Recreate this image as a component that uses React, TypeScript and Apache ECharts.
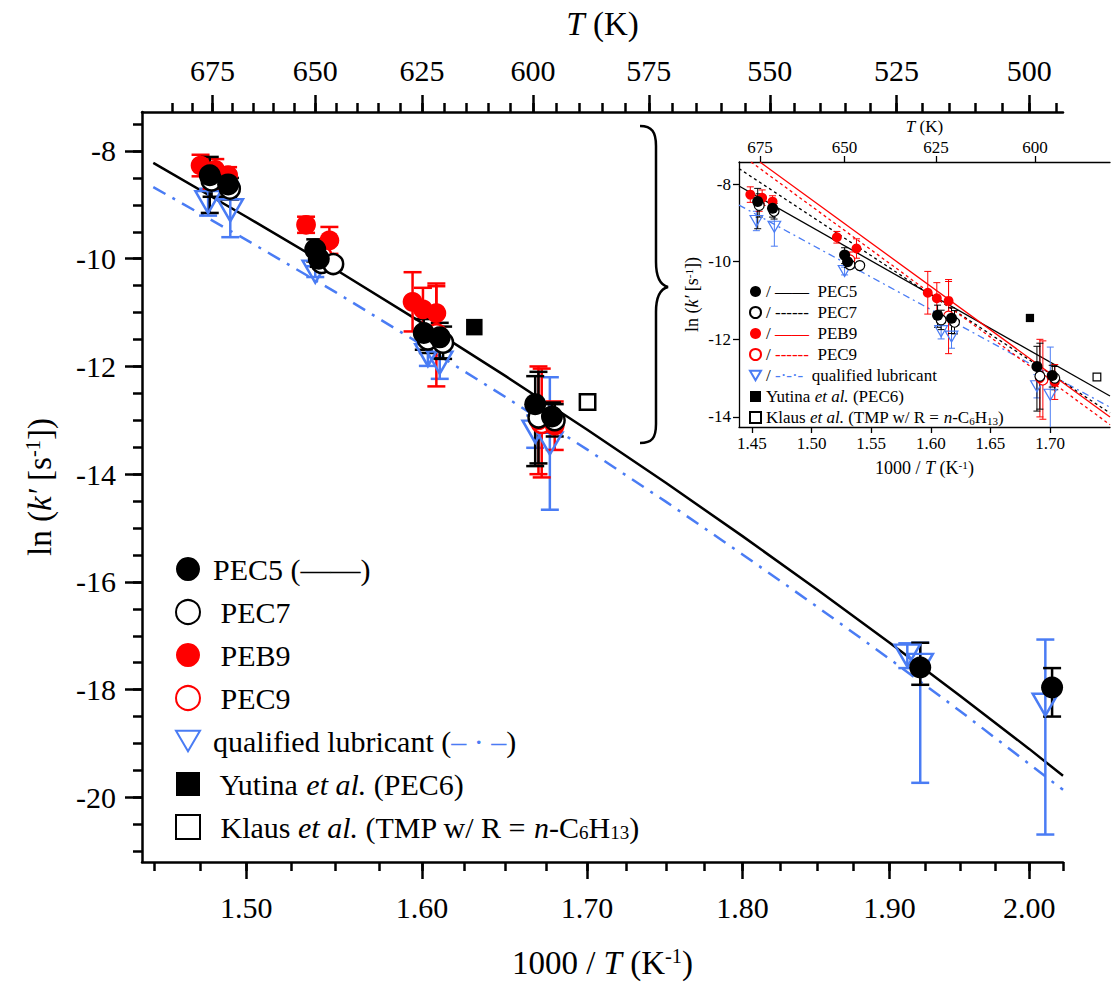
import React, { useEffect, useRef } from 'react';
import * as echarts from 'echarts';

const FONT = '"Liberation Serif", "Times New Roman", serif';
const BLUE = '#4a7cf4';
const RED = '#ff0000';

// ---- tick labels ----
const xMajor = [1.5, 1.6, 1.7, 1.8, 1.9, 2.0];
const xMinor = [1.45, 1.475, 1.5, 1.525, 1.55, 1.575, 1.6, 1.625, 1.65, 1.675, 1.7, 1.725, 1.75, 1.775, 1.8, 1.825, 1.85, 1.875, 1.9, 1.925, 1.95, 1.975, 2.0, 2.025];
const tMajor = [675, 650, 625, 600, 575, 550, 525, 500];
const tMinor = [685, 680, 675, 670, 665, 660, 655, 650, 645, 640, 635, 630, 625, 620, 615, 610, 605, 600, 595, 590, 585, 580, 575, 570, 565, 560, 555, 550, 545, 540, 535, 530, 525, 520, 515, 510, 505, 500, 495];
const yMajor = [-20, -18, -16, -14, -12, -10, -8];
const yMinor = [-21, -20.5, -20, -19.5, -19, -18.5, -18, -17.5, -17, -16.5, -16, -15.5, -15, -14.5, -14, -13.5, -13, -12.5, -12, -11.5, -11, -10.5, -10, -9.5, -9, -8.5, -8, -7.5];

const insetXMajor = [1.45, 1.5, 1.55, 1.6, 1.65, 1.7];
const insetTMajor = [675, 650, 625, 600];
const insetYMajor = [-14, -12, -10, -8];

// ---- data: x = 1000/T (K^-1), y = ln k', low/high = error bar ends ----
const pec5X = [1.48, 1.49, 1.5385, 1.5405, 1.6011, 1.6105, 1.668, 1.6783, 1.9215, 2.0169];
const pec5Y = [-8.45, -8.62, -9.83, -10.0, -11.38, -11.46, -12.7, -12.93, -17.59, -17.96];
const pec5Lo = [-9.15, -8.85, -10.05, -10.15, -11.69, -11.85, -13.85, -13.23, -17.91, -18.5];
const pec5Hi = [-8.11, -8.39, -9.64, -9.85, -11.12, -11.19, -12.18, -12.67, -17.13, -17.6];

const pec7X = [1.481, 1.491, 1.5421, 1.5487, 1.6035, 1.6125, 1.67, 1.68];
const pec7Y = [-8.55, -8.7, -10.08, -10.1, -11.5, -11.56, -12.95, -13.0];
const pec7Lo = [-8.85, -8.9, -10.18, -10.2, -11.75, -11.86, -13.8, -13.3];
const pec7Hi = [-8.25, -8.5, -9.98, -10.0, -11.25, -11.26, -12.1, -12.7];

const peb9X = [1.475, 1.483, 1.49, 1.5333, 1.5465, 1.5945, 1.6006, 1.6085, 1.67, 1.68];
const peb9Y = [-8.27, -8.35, -8.45, -9.37, -9.66, -10.8, -10.94, -11.01, -13.0, -13.1];
const peb9Lo = [-8.47, -8.55, -8.6, -9.52, -9.91, -11.35, -11.34, -11.51, -14.0, -13.55];
const peb9Hi = [-8.07, -8.15, -8.3, -9.22, -9.41, -10.25, -10.54, -10.51, -12.0, -12.65];

const pec9X = [1.481, 1.542, 1.6085, 1.672];
const pec9Y = [-8.5, -9.95, -11.4, -13.05];
const pec9Lo = [-8.7, -10.15, -12.37, -14.06];
const pec9Hi = [-8.3, -9.75, -10.46, -12.04];

const qlX = [1.4791, 1.4912, 1.5385, 1.6035, 1.6105, 1.668, 1.677, 1.9124, 1.9215, 2.0119];
const qlY = [-8.95, -9.1, -10.24, -11.79, -11.93, -13.21, -13.43, -17.37, -17.54, -18.28];
const qlLo = [-9.2, -9.6, -10.34, -11.99, -12.23, -13.51, -14.66, -17.6, -19.73, -20.69];
const qlHi = [-8.7, -8.6, -10.14, -11.59, -11.63, -12.91, -12.2, -17.14, -17.13, -17.07];

const yutinaX = [1.6311];
const yutinaY = [-11.27];
const klausX = [1.7004];
const klausY = [-12.66];
// where the inset draws these two literature points
const insetYutinaX = [1.6633];
const insetYutinaY = [-11.45];
const insetKlausX = [1.7084];
const insetKlausY = [-12.97];

// fit lines (straight in 1000/T, so curved on this axis)
const fit5X = [1.4496, 1.5, 1.55, 1.6, 1.65, 1.7, 1.75, 1.8, 1.85, 1.9, 1.95, 2.0, 2.025];
const fit5Y = [-8.22, -9.22, -10.2, -11.19, -12.18, -13.17, -14.16, -15.15, -16.14, -17.13, -18.12, -19.1, -19.6];
const fitQX = [1.4496, 1.5, 1.55, 1.6, 1.65, 1.7, 1.75, 1.8, 1.85, 1.9, 1.95, 2.0, 2.025];
const fitQY = [-8.67, -9.65, -10.62, -11.6, -12.57, -13.54, -14.51, -15.49, -16.46, -17.43, -18.4, -19.38, -19.86];

// inset fit lines
const in5X = [1.4674, 1.7172];
const in5Y = [-8.05, -13.46];
const in7X = [1.4674, 1.7172];
const in7Y = [-7.6, -13.9];
const inB9X = [1.4815, 1.7172];
const inB9Y = [-7.43, -14.0];
const inC9X = [1.4755, 1.7172];
const inC9Y = [-7.43, -14.2];
const inQX = [1.4674, 1.7172];
const inQY = [-8.54, -13.75];

const LN = Math.log;

function pts(xs: number[], ys: number[], log: boolean) {
  return xs.map((x, i) => [log ? LN(x) : x, ys[i]]);
}

function errSeries(name: string, xs: number[], lo: number[], hi: number[], color: string, log: boolean, cap: number, lw: number, z: number) {
  return {
    type: 'custom',
    name,
    clip: true,
    z,
    silent: true,
    data: xs.map((x, i) => [log ? LN(x) : x, lo[i], hi[i]]),
    encode: { x: 0, y: [1, 2] },
    renderItem: (params: any, api: any) => {
      const x = api.value(0);
      const p1 = api.coord([x, api.value(1)]);
      const p2 = api.coord([x, api.value(2)]);
      const h = cap / 2;
      const st = { stroke: color, lineWidth: lw };
      return {
        type: 'group',
        children: [
          { type: 'line', shape: { x1: p1[0], y1: p1[1], x2: p2[0], y2: p2[1] }, style: st },
          { type: 'line', shape: { x1: p1[0] - h, y1: p1[1], x2: p1[0] + h, y2: p1[1] }, style: st },
          { type: 'line', shape: { x1: p2[0] - h, y1: p2[1], x2: p2[0] + h, y2: p2[1] }, style: st },
        ],
      };
    },
  };
}

const TRI = 'path://M0,0 L20,0 L10,17 Z';

function scatterSet(log: boolean, s: number, bw: number, yut: number[][], kla: number[][]) {
  const common = { type: 'scatter', clip: true };
  return [
    { ...common, name: 'qualified lubricant', data: pts(qlX, qlY, log), symbol: TRI, symbolSize: [s * 1.15, s * 1.0], itemStyle: { color: 'rgba(255,255,255,0)', borderColor: BLUE, borderWidth: bw, opacity: 1 }, z: 4 },
    { ...common, name: 'PEC9', data: pts(pec9X, pec9Y, log), symbol: 'circle', symbolSize: s * 0.9, itemStyle: { color: '#fff', borderColor: RED, borderWidth: bw, opacity: 1 }, z: 5 },
    { ...common, name: 'PEB9', data: pts(peb9X, peb9Y, log), symbol: 'circle', symbolSize: s * 0.9, itemStyle: { color: RED, opacity: 1 }, z: 6 },
    { ...common, name: 'PEC7', data: pts(pec7X, pec7Y, log), symbol: 'circle', symbolSize: s * 0.9, itemStyle: { color: '#fff', borderColor: '#000', borderWidth: bw, opacity: 1 }, z: 7 },
    { ...common, name: 'PEC5', data: pts(pec5X, pec5Y, log), symbol: 'circle', symbolSize: s, itemStyle: { color: '#000', opacity: 1 }, z: 8 },
    { ...common, name: 'Yutina', data: pts(yut[0], yut[1], log), symbol: 'rect', symbolSize: s * 0.75, itemStyle: { color: '#000', opacity: 1 }, z: 8 },
    { ...common, name: 'Klaus', data: pts(kla[0], kla[1], log), symbol: 'rect', symbolSize: s * 0.7, itemStyle: { color: '#fff', borderColor: '#000', borderWidth: bw, opacity: 1 }, z: 8 },
  ];
}

function errSet(log: boolean, cap: number, lw: number) {
  return [
    errSeries('e-ql', qlX, qlLo, qlHi, BLUE, log, cap, lw, 3),
    errSeries('e-pec9', pec9X, pec9Lo, pec9Hi, RED, log, cap, lw, 3),
    errSeries('e-peb9', peb9X, peb9Lo, peb9Hi, RED, log, cap, lw, 3),
    errSeries('e-pec7', pec7X, pec7Lo, pec7Hi, '#000', log, cap, lw, 3),
    errSeries('e-pec5', pec5X, pec5Lo, pec5Hi, '#000', log, cap, lw, 3),
  ];
}

function lineSeries(name: string, xs: number[], ys: number[], color: string, type: any, log: boolean, w: number) {
  return {
    type: 'line', name, data: pts(xs, ys, log), showSymbol: false, symbol: 'none',
    smooth: false, clip: true, lineStyle: { color, width: w, type }, z: 2, silent: true,
  };
}

const lab = (size: number) => ({ fontFamily: FONT, fontSize: size, color: '#000' });
const richLabel = (size: number, fmt: (v: number) => string) => ({
  formatter: (v: number) => `{a|${fmt(v)}}`,
  rich: { a: lab(size) },
  ...lab(size),
});

function richT(size: number) {
  return {
    n: { fontFamily: FONT, fontSize: size, color: '#000' },
    i: { fontFamily: FONT, fontSize: size, color: '#000', fontStyle: 'italic' },
    sup: { fontFamily: FONT, fontSize: size * 0.62, color: '#000', verticalAlign: 'top', lineHeight: size * 0.9 },
    sub: { fontFamily: FONT, fontSize: size * 0.62, color: '#000', verticalAlign: 'bottom', lineHeight: size * 0.4 },
  };
}

export default function App() {
  const ref = useRef<HTMLDivElement>(null);
  useEffect(() => {
    document.body.style.margin = '0';
    if (!ref.current) return;
    const chart = echarts.init(ref.current, null, { renderer: 'svg' });

    echarts.graphic.registerShape('brace', echarts.graphic.extendPath(
      'M640,126 C652,126 656,132 656,146 L656,262 C656,278 660,285 668,287 C660,289 656,296 656,312 L656,424 C656,438 652,443 640,443', {}));

    const mainMin = LN(1.4436), mainMax = LN(2.025);
    // inset: bottom label scale and data (top) scale as drawn in the figure
    const insetBMin = 1.4391, insetBMax = 1.7503;
    const insetMin = 1.4674, insetMax = 1.7172;

    const tickStyle = { color: '#000', width: 2.5 };
    const thin = { color: '#000', width: 1.3 };
    const xAxes: any[] = [
      {
        type: 'value', gridIndex: 0, position: 'bottom', min: mainMin, max: mainMax,
        axisLine: { lineStyle: tickStyle },
        axisTick: { customValues: xMajor.map(LN), length: 17, lineStyle: tickStyle },
        axisLabel: { customValues: xMajor.map(LN), margin: 30, ...richLabel(30, (v) => Math.exp(v).toFixed(2)) },
        splitLine: { show: false },
        name: '{n|1000 / }{i|T}{n| (K}{sup|-1}{n|)}', nameLocation: 'middle', nameGap: 84,
        nameTextStyle: { rich: richT(33) },
      },
      {
        type: 'value', gridIndex: 0, position: 'bottom', min: mainMin, max: mainMax,
        axisLine: { show: false },
        axisTick: { customValues: xMinor.map(LN), length: 9, lineStyle: tickStyle },
        axisLabel: { show: false }, splitLine: { show: false },
      },
      {
        type: 'value', gridIndex: 0, position: 'top', min: mainMin, max: mainMax,
        axisLine: { lineStyle: tickStyle },
        axisTick: { customValues: tMajor.map((t) => LN(1000 / t)), length: 17, lineStyle: tickStyle },
        axisLabel: { customValues: tMajor.map((t) => LN(1000 / t)), margin: 27, ...richLabel(30, (v) => String(Math.round(1000 / Math.exp(v)))) },
        splitLine: { show: false },
        name: '{i|T}{n| (K)}', nameLocation: 'middle', nameGap: 72, nameTextStyle: { rich: richT(33) },
      },
      {
        type: 'value', gridIndex: 0, position: 'top', min: mainMin, max: mainMax,
        axisLine: { show: false },
        axisTick: { customValues: tMinor.map((t) => LN(1000 / t)), length: 9, lineStyle: tickStyle },
        axisLabel: { show: false }, splitLine: { show: false },
      },
      {
        type: 'value', gridIndex: 1, position: 'bottom', min: insetBMin, max: insetBMax,
        axisLine: { lineStyle: thin },
        axisTick: { customValues: insetXMajor, length: 6, lineStyle: thin },
        axisLabel: { customValues: insetXMajor, margin: 8, ...richLabel(17, (v) => v.toFixed(2)) },
        splitLine: { show: false },
        name: '{n|1000 / }{i|T}{n| (K}{sup|-1}{n|)}', nameLocation: 'middle', nameGap: 32, nameTextStyle: { rich: richT(18) },
      },
      {
        type: 'value', gridIndex: 1, position: 'top', min: insetMin, max: insetMax,
        axisLine: { lineStyle: thin },
        axisTick: { customValues: insetTMajor.map((t) => 1000 / t), length: 6, lineStyle: thin },
        axisLabel: { customValues: insetTMajor.map((t) => 1000 / t), margin: 6, ...richLabel(17, (v) => String(Math.round(1000 / v))) },
        splitLine: { show: false },
        name: '{i|T}{n| (K)}', nameLocation: 'middle', nameGap: 27, nameTextStyle: { rich: richT(17) },
      },
    ];

    const yAxes: any[] = [
      {
        type: 'value', gridIndex: 0, position: 'left', min: -21.2, max: -7.276,
        axisLine: { lineStyle: tickStyle },
        axisTick: { customValues: yMajor, length: 17, lineStyle: tickStyle },
        axisLabel: { customValues: yMajor, margin: 26, ...richLabel(30, (v) => String(v)) },
        splitLine: { show: false },
        name: '{n|ln (}{i|k′}{n| [s}{sup|-1}{n|])}', nameLocation: 'middle', nameGap: 86, nameRotate: 90,
        nameTextStyle: { rich: richT(33) },
      },
      {
        type: 'value', gridIndex: 0, position: 'left', min: -21.2, max: -7.276,
        axisLine: { show: false },
        axisTick: { customValues: yMinor, length: 9, lineStyle: tickStyle },
        axisLabel: { show: false }, splitLine: { show: false },
      },
      {
        type: 'value', gridIndex: 1, position: 'left', min: -14.26, max: -7.43,
        axisLine: { lineStyle: thin },
        axisTick: { customValues: insetYMajor, length: 6, lineStyle: thin },
        axisLabel: { customValues: insetYMajor, margin: 8, ...richLabel(17, (v) => String(v)) },
        splitLine: { show: false },
        name: '{n|ln (}{i|k′}{n| [s}{sup|-1}{n|])}', nameLocation: 'middle', nameGap: 38, nameRotate: 90,
        nameTextStyle: { rich: richT(18) },
      },
    ];

    const withAxes = (arr: any[], xi: number, yi: number) => arr.map((s) => ({ ...s, xAxisIndex: xi, yAxisIndex: yi }));

    const mainSeries: any[] = withAxes([
      lineSeries('fitQ', fitQX, fitQY, BLUE, [14, 8, 3, 8], true, 2.5),
      lineSeries('fit5', fit5X, fit5Y, '#000', 'solid', true, 2.5),
      ...errSet(true, 18, 2.5),
      ...scatterSet(true, 22, 2.5, [yutinaX, yutinaY], [klausX, klausY]),
    ], 0, 0);
    const insetSeries: any[] = withAxes([
      lineSeries('iQ', inQX, inQY, BLUE, [7, 4, 2, 4], false, 1.3),
      lineSeries('i5', in5X, in5Y, '#000', 'solid', false, 1.3),
      lineSeries('i7', in7X, in7Y, '#000', [3, 3], false, 1.3),
      lineSeries('iB9', inB9X, inB9Y, RED, 'solid', false, 1.3),
      lineSeries('iC9', inC9X, inC9Y, RED, [3, 3], false, 1.3),
      ...errSet(false, 7, 1),
      ...scatterSet(false, 11, 1.2, [insetYutinaX, insetYutinaY], [insetKlausX, insetKlausY]),
    ], 5, 2);

    const legendRich = {
      n: { fontFamily: FONT, fontSize: 30, color: '#000' },
      i: { fontFamily: FONT, fontSize: 30, color: '#000', fontStyle: 'italic' },
      b: { fontFamily: FONT, fontSize: 30, color: BLUE },
      sub: { fontFamily: FONT, fontSize: 19, color: '#000', verticalAlign: 'bottom', lineHeight: 12 },
    };
    const legendText: Record<string, string> = {
      PEC5: '{n|PEC5 (——)}',
      PEC7: '{n| PEC7}',
      PEB9: '{n| PEB9}',
      PEC9: '{n| PEC9}',
      'qualified lubricant': '{n|qualified lubricant (}{b|– · –}{n|)}',
      Yutina: '{n| Yutina }{i|et al.}{n| (PEC6)}',
      Klaus: '{n| Klaus }{i|et al.}{n| (TMP w/ R = }{i|n}{n|-C}{sub|6}{n|H}{sub|13}{n|)}',
    };

    const s = 17;
    const insetRich = {
      n: { fontFamily: FONT, fontSize: s, color: '#000' },
      i: { fontFamily: FONT, fontSize: s, color: '#000', fontStyle: 'italic' },
      k: { fontFamily: FONT, fontSize: s, color: '#000' },
      r: { fontFamily: FONT, fontSize: s, color: RED },
      b: { fontFamily: FONT, fontSize: s, color: BLUE },
      sub: { fontFamily: FONT, fontSize: 11, color: '#000', verticalAlign: 'bottom', lineHeight: 8 },
    };
    const insetText: Record<string, string> = {
      PEC5: '{n|/ }{k|——}{n|  PEC5}',
      PEC7: '{n|/ }{k|------}{n|  PEC7}',
      PEB9: '{n|/ }{r|——}{n|  PEB9}',
      PEC9: '{n|/ }{r|------}{n|  PEC9}',
      'qualified lubricant': '{n|/ }{b|-·-·-}{n|  qualified lubricant}',
      Yutina: '{n|Yutina }{i|et al.}{n| (PEC6)}',
      Klaus: '{n|Klaus }{i|et al.}{n| (TMP w/ R = }{i|n}{n|-C}{sub|6}{n|H}{sub|13}{n|)}',
    };
    const names = ['PEC5', 'PEC7', 'PEB9', 'PEC9', 'qualified lubricant', 'Yutina', 'Klaus'];

    chart.setOption({
      animation: false,
      backgroundColor: '#fff',
      textStyle: { fontFamily: FONT },
      grid: [
        { left: 142, top: 112, width: 921, height: 750, show: false, containLabel: false, outerBoundsMode: 'none' },
        { left: 739, top: 162, width: 371, height: 265, show: false, containLabel: false, outerBoundsMode: 'none' },
      ],
      xAxis: xAxes,
      yAxis: yAxes,
      legend: [
        {
          data: names, orient: 'vertical', left: 170, top: 549, itemGap: 13, itemWidth: 24, itemHeight: 24,
          selectedMode: false, formatter: (n: string) => legendText[n],
          textStyle: { ...lab(30), rich: legendRich, padding: [0, 0, 0, 8] },
        },
        {
          data: names, orient: 'vertical', left: 744, top: 278, itemGap: 4, itemWidth: 11, itemHeight: 11,
          selectedMode: false, formatter: (n: string) => insetText[n],
          textStyle: { ...lab(s), rich: insetRich },
        },
      ],
      graphic: [
        { type: 'brace', x: 0, y: 0, style: { fill: 'none', stroke: '#000', lineWidth: 2.5 } },
      ],
      series: [...mainSeries, ...insetSeries],
    });
    return () => chart.dispose();
  }, []);
  return <div ref={ref} style={{ width: 1117, height: 990 }} />;
}
